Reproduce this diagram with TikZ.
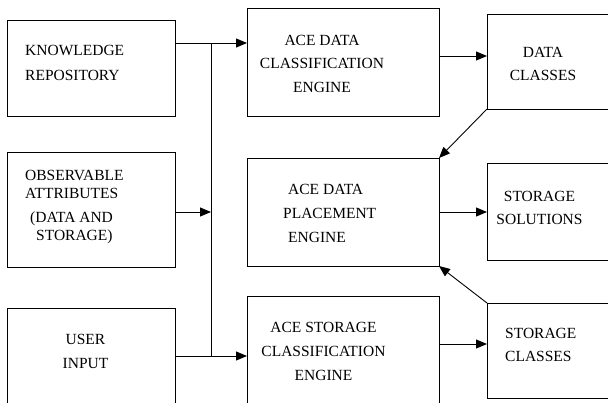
\documentclass[tikz,border=0pt]{standalone}
\usepackage{fontspec}
\setmainfont{Liberation Serif}
\usetikzlibrary{arrows.meta}
\begin{document}
\begin{tikzpicture}[x=1pt,y=-1pt,
  box/.style={draw=black,line width=0.9pt,inner sep=0pt,outer sep=0pt,anchor=north west},
  lbl/.style={inner sep=0pt,font=\fontsize{15.5}{23.5}\selectfont},
  link/.style={draw=black,line width=0.9pt},
  arr/.style={link,-{Triangle[length=11pt,width=9pt]}}]
\useasboundingbox (0,0) rectangle (608,402);
\clip (0,0) rectangle (608,402);
% boxes
\node[box,minimum width=168pt,minimum height=96pt]  (kr)   at (7,20) {};
\node[box,minimum width=168pt,minimum height=115pt] (oa)   at (7,152) {};
\node[box,minimum width=168pt,minimum height=115pt] (ui)   at (7,308) {};
\node[box,minimum width=192pt,minimum height=108pt] (ace1) at (247,8) {};
\node[box,minimum width=192pt,minimum height=108pt] (ace2) at (247,158) {};
\node[box,minimum width=192pt,minimum height=125pt] (ace3) at (247,296) {};
\node[box,minimum width=140pt,minimum height=95pt]  (dc)   at (487,14) {};
\node[box,minimum width=140pt,minimum height=97pt]  (ss)   at (487,163) {};
\node[box,minimum width=140pt,minimum height=95pt]  (sc)   at (487,303) {};
% texts
\node[lbl,anchor=west,align=left,font=\fontsize{15.5}{25}\selectfont] (krt) at (25,62.5) {KNOWLEDGE\\REPOSITORY};
\node[lbl,anchor=west,align=left,font=\fontsize{15.5}{18}\selectfont] (oat) at (25,207) {OBSERVABLE\\ATTRIBUTES\\[6pt]\hspace*{5pt}(DATA AND\\\hspace*{11pt}STORAGE)};
\node[lbl,align=center,font=\fontsize{15.5}{24}\selectfont] (uit) at (85.5,351) {USER\\INPUT};
\node[lbl,align=center] (ace1t) at (322,63.5) {ACE DATA\\CLASSIFICATION\\ENGINE};
\node[lbl,anchor=west,align=left,font=\fontsize{15.5}{24}\selectfont] (ace2t) at (283,213) {\hspace*{5pt}ACE DATA\\PLACEMENT\\\hspace*{5pt}ENGINE};
\node[lbl,align=center,font=\fontsize{15.5}{24}\selectfont] (ace3t) at (323.5,351) {ACE STORAGE\\CLASSIFICATION\\ENGINE};
\node[lbl,align=center,font=\fontsize{15.5}{23}\selectfont] (dct) at (543,63.5) {DATA\\CLASSES};
\node[lbl,align=center,font=\fontsize{15.5}{23}\selectfont] (sst) at (539.5,207.5) {STORAGE\\SOLUTIONS};
\node[lbl,anchor=west,align=left,font=\fontsize{15.5}{23}\selectfont] (sct) at (505,344.5) {STORAGE\\CLASSES};
% junction coordinates
\coordinate (j1) at (211,43);
\coordinate (j2) at (211,212);
\coordinate (j3) at (211,356);
\coordinate (r1) at (0,56);
\coordinate (r3) at (0,344);
% connectors
\draw[arr] (kr.east |- j1) -- (ace1.west |- j1);
\draw[link] (j1) -- (j3);
\draw[arr] (oa.east |- j2) -- (j2);
\draw[arr] (ui.east |- j3) -- (ace3.west |- j3);
\draw[arr] (ace1.east |- r1) -- (dc.west |- r1);
\draw[arr] (dc.south west) -- (ace2.north east);
\draw[arr] (ace2.east |- j2) -- (ss.west |- j2);
\draw[arr] (sc.north west) -- (ace2.south east);
\draw[arr] (ace3.east |- r3) -- (sc.west |- r3);
\end{tikzpicture}
\end{document}
